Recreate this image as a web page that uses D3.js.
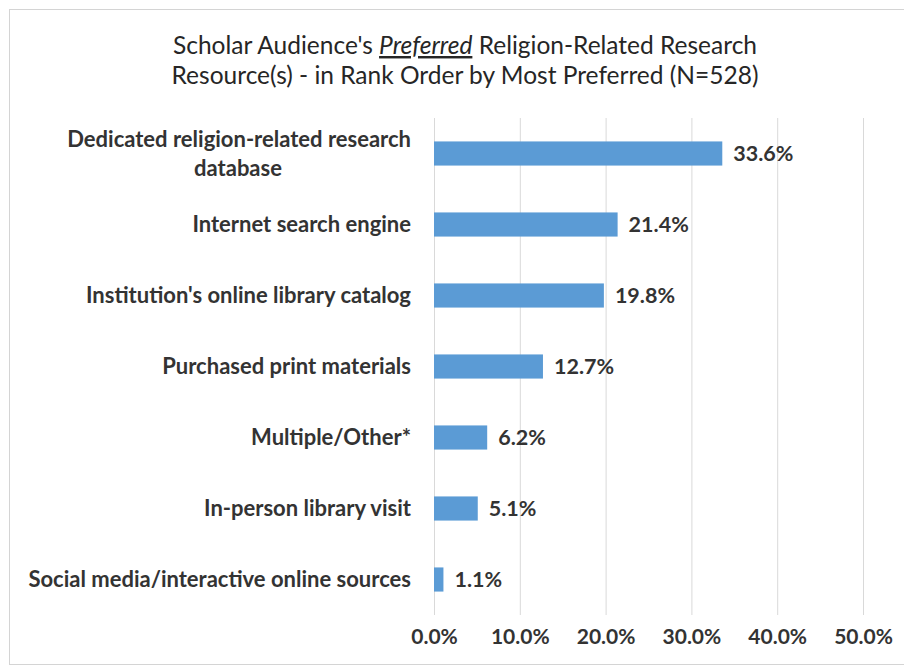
<!DOCTYPE html>
<html>
<head>
<meta charset="utf-8">
<script src="https://cdn.jsdelivr.net/npm/d3@7"></script>
<style>
  html, body { margin: 0; padding: 0; background: #fff; }
  svg { display: block; font-family: Lato, "Open Sans", sans-serif; }
</style>
</head>
<body>
<svg id="chart" width="904" height="668"></svg>
<script>
// Resource categories in rank order and their share of respondents (%)
const categories = [
  ["Dedicated religion-related research", "database"],
  ["Internet search engine"],
  ["Institution's online library catalog"],
  ["Purchased print materials"],
  ["Multiple/Other*"],
  ["In-person library visit"],
  ["Social media/interactive online sources"]
];
const values = [33.6, 21.4, 19.8, 12.7, 6.2, 5.1, 1.1];
const tickValues = [0, 10, 20, 30, 40, 50];

const svg = d3.select("#chart");
const W = 904, H = 668;
const margin = { left: 434, right: 41, top: 118, bottom: 53 };
const ink = "#333333";

// Chart frame
svg.append("rect")
  .attr("x", 9.5).attr("y", 9.5)
  .attr("width", W + 10).attr("height", 655)
  .attr("fill", "#fff").attr("stroke", "#d4d4d4");

// Title
const title = svg.append("text")
  .attr("x", 465).attr("y", 54)
  .attr("text-anchor", "middle")
  .attr("font-size", 24.5).attr("fill", "#262626");
title.append("tspan").text("Scholar Audience's ");
title.append("tspan").attr("font-style", "italic").attr("text-decoration", "underline").text("Preferred");
title.append("tspan").text(" Religion-Related Research");
svg.append("text")
  .attr("x", 465).attr("y", 84)
  .attr("text-anchor", "middle")
  .attr("font-size", 24.5).attr("fill", "#262626")
  .text("Resource(s) - in Rank Order by Most Preferred (N=528)");

const x = d3.scaleLinear().domain([0, 50]).range([margin.left, W - margin.right]);
const y = d3.scaleBand()
  .domain(d3.range(values.length))
  .range([margin.top, H - margin.bottom])
  .paddingInner(0.66).paddingOuter(0.33);

// Vertical gridlines
svg.append("g")
  .selectAll("line")
  .data(tickValues)
  .join("line")
  .attr("x1", d => x(d) + 0.5).attr("x2", d => x(d) + 0.5)
  .attr("y1", margin.top).attr("y2", H - margin.bottom)
  .attr("stroke", "#d9d9d9").attr("stroke-width", 1);

// X axis tick labels
const xAxis = d3.axisBottom(x)
  .tickValues(tickValues)
  .tickSize(0).tickPadding(0)
  .tickFormat(d => d.toFixed(1) + "%");
const gx = svg.append("g")
  .attr("transform", `translate(0,${H - margin.bottom + 14})`)
  .call(xAxis);
gx.select(".domain").remove();
gx.selectAll("text")
  .attr("font-family", "Lato, sans-serif")
  .attr("font-size", 21).attr("font-weight", "bold").attr("fill", ink);

// Bars
svg.append("g")
  .selectAll("rect")
  .data(values)
  .join("rect")
  .attr("x", x(0))
  .attr("y", (d, i) => y(i))
  .attr("width", d => x(d) - x(0))
  .attr("height", y.bandwidth())
  .attr("fill", "#5b9bd5");

// Value labels
svg.append("g")
  .selectAll("text")
  .data(values)
  .join("text")
  .attr("x", d => x(d) + 11)
  .attr("y", (d, i) => y(i) + y.bandwidth() / 2)
  .attr("dy", "0.36em")
  .attr("font-size", 21.5).attr("font-weight", "bold").attr("fill", ink)
  .text(d => d.toFixed(1) + "%");

// Category labels
const cat = svg.append("g")
  .selectAll("text")
  .data(categories)
  .join("text")
  .attr("font-size", 22).attr("font-weight", "bold").attr("fill", ink)
  .attr("y", (d, i) => y(i) + y.bandwidth() / 2);
cat.each(function (lines) {
  const t = d3.select(this);
  const n = lines.length;
  lines.forEach((ln, k) => {
    t.append("tspan")
      .attr("x", k > 0 ? 238 : 411)
      .attr("text-anchor", k > 0 ? "middle" : "end")
      .attr("dy", k === 0 ? (0.36 - (n - 1) * 0.66) + "em" : "1.32em")
      .text(ln);
  });
});
</script>
</body>
</html>
